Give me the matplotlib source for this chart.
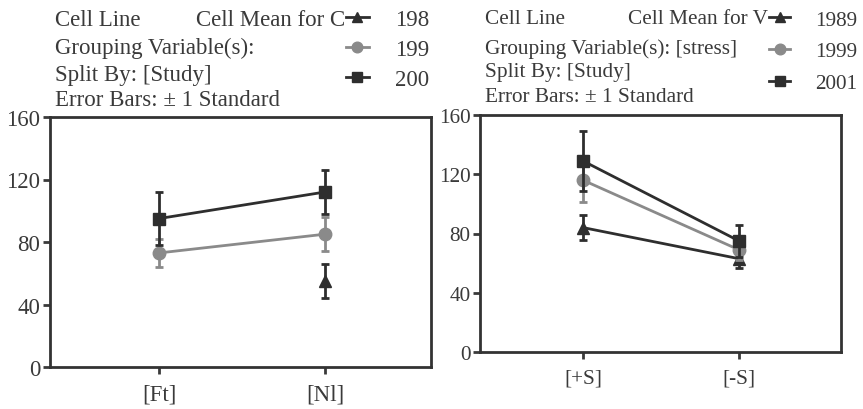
import matplotlib.pyplot as plt
import numpy as np

plt.rcParams['font.family'] = ['Liberation Serif', 'DejaVu Serif']

W, H = 863, 410
ink = '#3a3a3a'

# left panel: grouping Ft / Nl
left_cats = ['[Ft]', '[Nl]']
left_names = ['198', '199', '200']
left_means = [[np.nan, 55], [73, 85], [95, 112]]
left_errs = [[np.nan, 11], [9, 11], [17, 14]]

# right panel: stress +S / -S
right_cats = ['[+S]', '[-S]']
right_names = ['1989', '1999', '2001']
right_means = [[84, 63], [116, 69], [129, 75]]
right_errs = [[8.5, 6], [15, 7], [20, 11]]

yticks = [0, 40, 80, 120, 160]

colors = ['#2e2e2e', '#8a8a8a', '#2e2e2e']
markers = ['^', 'o', 's']
msizes = [8, 9, 8.5]
fsL, fsR = 16.5, 15.3


def px(x, y):
    return x / W, 1 - y / H


fig = plt.figure(figsize=(W / 100, H / 100), dpi=100)


def panel(rect, cats, names, means, errs, xlim, fs):
    ax = fig.add_axes(rect)
    xs = np.arange(len(cats))
    handles = []
    for i in range(len(names)):
        eb = ax.errorbar(xs, means[i], yerr=errs[i], color=colors[i], marker=markers[i],
                         ms=msizes[i], lw=2, elinewidth=2, capsize=3, capthick=2,
                         zorder=3 + i)
        handles.append(eb[0])
    ax.set_xlim(*xlim)
    ax.set_ylim(0, 160)
    ax.set_yticks(yticks)
    ax.set_xticks(xs)
    ax.set_xticklabels(cats)
    for s in ax.spines.values():
        s.set_linewidth(2)
        s.set_color('#333333')
    ax.tick_params(axis='both', labelsize=fs, colors=ink, width=2, length=5, direction='out')
    ax.tick_params(axis='x', pad=7)
    ax.tick_params(axis='y', pad=2)
    return ax, handles


axL, hL = panel([50 / W, 1 - 368 / H, 381 / W, 250 / H], left_cats, left_names,
                left_means, left_errs, (-0.657, 1.639), fsL)
axR, hR = panel([480 / W, 1 - 353 / H, 361 / W, 237 / H], right_cats, right_names,
                right_means, right_errs, (-0.66, 1.654), fsR)

left_text = ['Cell Line', 'Grouping Variable(s):', 'Split By: [Study]',
             'Error Bars: \u00b1 1 Standard']
right_text = ['Cell Line', 'Grouping Variable(s): [stress]', 'Split By: [Study]',
              'Error Bars: \u00b1 1 Standard']
for t, y in zip(left_text, [20, 48, 76, 100]):
    fig.text(*px(55, y), t, fontsize=fsL, color=ink, va='center', ha='left')
for t, y in zip(right_text, [20, 49, 73, 98]):
    fig.text(*px(485, y), t, fontsize=fsR, color=ink, va='center', ha='left')
fig.text(*px(345, 20), 'Cell Mean for C', fontsize=fsL, color=ink, va='center', ha='right')
fig.text(*px(768, 20), 'Cell Mean for V', fontsize=fsR, color=ink, va='center', ha='right')

for hs, names, x0, y0, fs, sp in [(hL, left_names, 346, 10, fsL, 0.4),
                                  (hR, right_names, 769, 11, fsR, 0.55)]:
    leg = fig.legend(hs, names, loc='upper left', bbox_to_anchor=px(x0, y0),
                     frameon=False, fontsize=fs, labelcolor=ink, markerscale=0.85,
                     handlelength=1.0, handletextpad=1.15, labelspacing=sp,
                     borderaxespad=0, borderpad=0)

fig.savefig('out.png', dpi=100)
